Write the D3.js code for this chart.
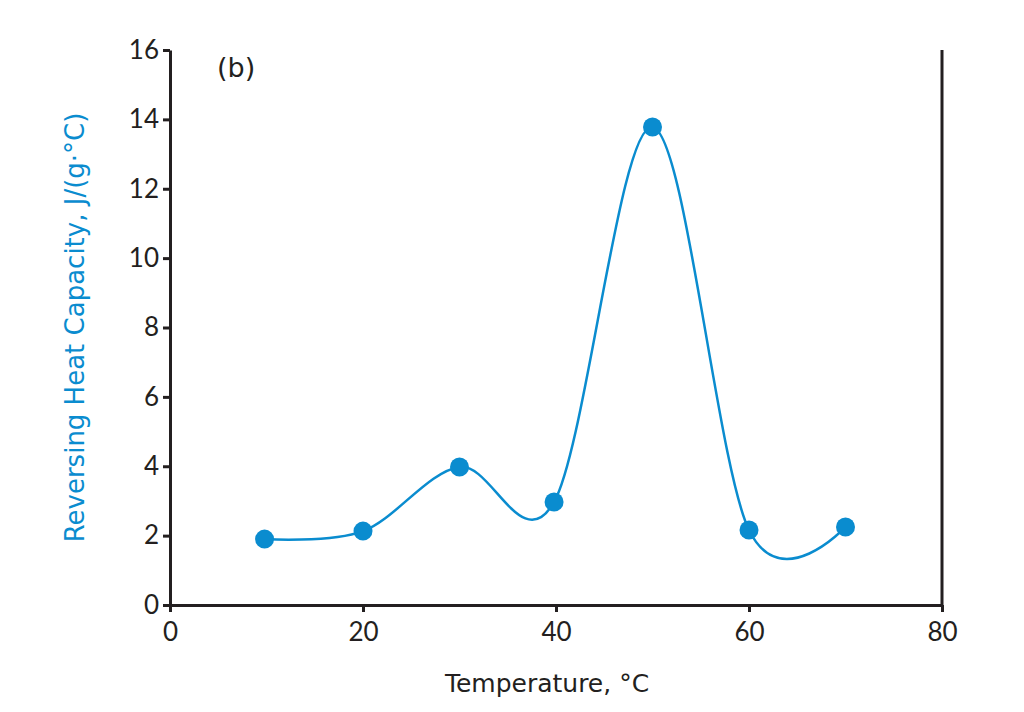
<!DOCTYPE html>
<html lang="en">
<head>
<meta charset="UTF-8">
<title>Reversing Heat Capacity</title>
<style>
  body { margin: 0; background: #fff; }
  svg text { font-family: "DejaVu Sans", sans-serif; fill: #231f20; }
  .axis path, .axis line { stroke: #231f20; stroke-width: 3; }
  .axis text { font-family: "Lato", sans-serif; font-size: 26px; }
</style>
</head>
<body>
<svg id="chart" width="1024" height="712"></svg>
<script src="https://d3js.org/d3.v7.min.js"></script>
<script>
  const temps = [9.8, 20, 30, 39.8, 50, 60, 70];
  const heatCap = [1.9, 2.13, 3.98, 2.97, 13.78, 2.16, 2.25];
  const xTicks = [0, 20, 40, 60, 80];
  const yTicks = [0, 2, 4, 6, 8, 10, 12, 14, 16];

  const margin = {top: 50, right: 82, bottom: 107, left: 170};
  const width = 1024, height = 712;
  const blue = "#0a8ccf";

  const svg = d3.select("#chart");

  const x = d3.scaleLinear().domain([0, 80]).range([margin.left, width - margin.right]);
  const y = d3.scaleLinear().domain([0, 16]).range([height - margin.bottom, margin.top]);

  const xAxis = svg.append("g")
      .attr("class", "axis")
      .attr("transform", `translate(0,${y(0)})`)
      .call(d3.axisBottom(x).tickValues(xTicks).tickSize(7).tickPadding(8).tickSizeOuter(0));
  xAxis.selectAll("text").attr("dy", "0.8em");

  svg.append("g")
      .attr("class", "axis")
      .attr("transform", `translate(${x(0)},0)`)
      .call(d3.axisLeft(y).tickValues(yTicks).tickSize(7).tickPadding(4).tickSizeOuter(0));

  // right border
  svg.append("line")
      .attr("x1", x(80)).attr("x2", x(80))
      .attr("y1", y(16)).attr("y2", y(0) + 1.5)
      .attr("stroke", "#231f20").attr("stroke-width", 3);

  const pts = temps.map((t, i) => [t, heatCap[i]]);

  svg.append("path")
      .datum(pts)
      .attr("fill", "none")
      .attr("stroke", blue)
      .attr("stroke-width", 2.5)
      .attr("d", d3.line().x(d => x(d[0])).y(d => y(d[1])).curve(d3.curveCatmullRom.alpha(0)));

  svg.selectAll("circle.pt")
      .data(pts)
      .enter().append("circle")
      .attr("class", "pt")
      .attr("cx", d => x(d[0]))
      .attr("cy", d => y(d[1]))
      .attr("r", 9.5)
      .attr("fill", blue);

  svg.append("text")
      .attr("x", 217).attr("y", 77)
      .style("font-size", "27px")
      .text("(b)");

  svg.append("text")
      .attr("x", 547).attr("y", 692)
      .attr("text-anchor", "middle")
      .style("font-size", "25px")
      .text("Temperature, °C");

  svg.append("text")
      .attr("transform", `translate(84,${(y(0) + y(16)) / 2}) rotate(-90)`)
      .attr("text-anchor", "middle")
      .style("font-size", "26px")
      .style("fill", blue)
      .text("Reversing Heat Capacity, J/(g·°C)");
</script>
</body>
</html>
